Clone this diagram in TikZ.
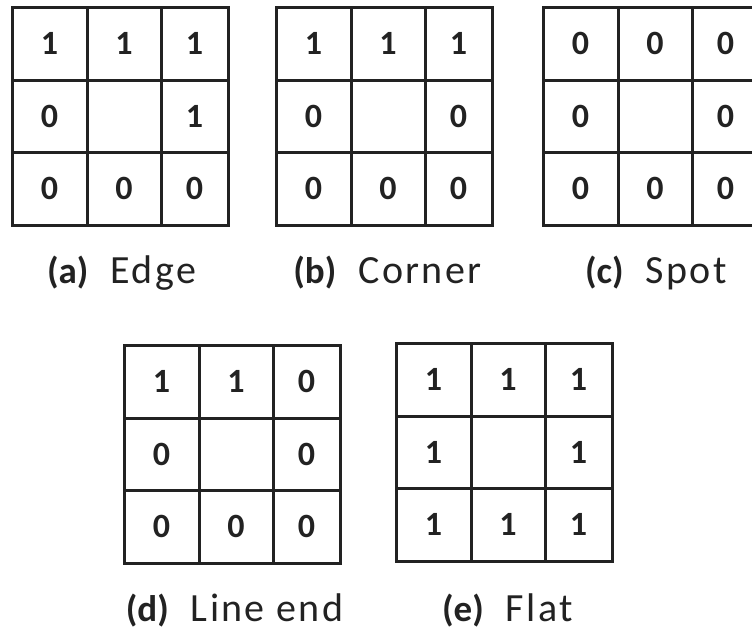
\documentclass[tikz,border=0pt]{standalone}
\usepackage{fontspec}
\setmainfont{Carlito}
\newfontfamily\capfont[LetterSpace=6]{Carlito}
\definecolor{ink}{HTML}{222222}
\newcommand{\tagfont}{\fontsize{37}{37}\selectfont\bfseries}
\tikzset{
    cell/.style={draw=ink,line width=3pt,inner sep=0pt,outer sep=0pt,
                 text=ink,font=\fontsize{34}{34}\selectfont\bfseries},
    caption/.style={anchor=base,inner sep=0pt,text=ink,
                    font=\fontsize{40}{40}\selectfont}
}

% 3x3 neighbourhood: name, left, top, the nine entries row by row
\newcommand{\maskgrid}[4]{%
  \foreach \v [count=\k from 0] in {#4}{
    \pgfmathtruncatemacro\c{mod(\k,3)}
    \pgfmathtruncatemacro\r{div(\k,3)}
    \pgfmathsetmacro\cx{{37.5,112,182.5}[\c]}
    \pgfmathsetmacro\cw{{75,74,67}[\c]}
    \pgfmathsetmacro\cy{{36.5,109,181.5}[\r]}
    \pgfmathsetmacro\ch{{73,72,73}[\r]}
    \node[cell,minimum width=\cw pt,minimum height=\ch pt] (#1-\r-\c)
      at (#2+\cx,#3+\cy) {\v};
  }%
}

\begin{document}
\begin{tikzpicture}[x=1pt,y=-1pt]
\useasboundingbox (0,0) rectangle (752,632);
\clip (0,0) rectangle (752,632);

% Top row
\maskgrid{a}{12}{7}{1,1,1,0,{},1,0,0,0}
\maskgrid{b}{276}{7}{1,1,1,0,{},0,0,0,0}
\maskgrid{c}{543}{7}{0,0,0,0,{},0,0,0,0}

% Bottom row
\maskgrid{d}{124}{345}{1,1,0,0,{},0,0,0,0}
\maskgrid{e}{396}{343}{1,1,1,1,{},1,1,1,1}

% Captions
\node[caption] (a-cap) at (121.5,283) {{\tagfont (a)}\hspace{22pt}{\capfont Edge}};
\node[caption] (b-cap) at (387.5,283) {{\tagfont (b)}\hspace{22pt}{\capfont Corner}};
\node[caption] (c-cap) at (656,283) {{\tagfont (c)}\hspace{22pt}{\capfont Spot}};
\node[caption] (d-cap) at (234.5,621) {{\tagfont (d)}\hspace{22pt}{\capfont Line end}};
\node[caption] (e-cap) at (507.5,621) {{\tagfont (e)}\hspace{22pt}{\capfont Flat}};

\end{tikzpicture}
\end{document}
